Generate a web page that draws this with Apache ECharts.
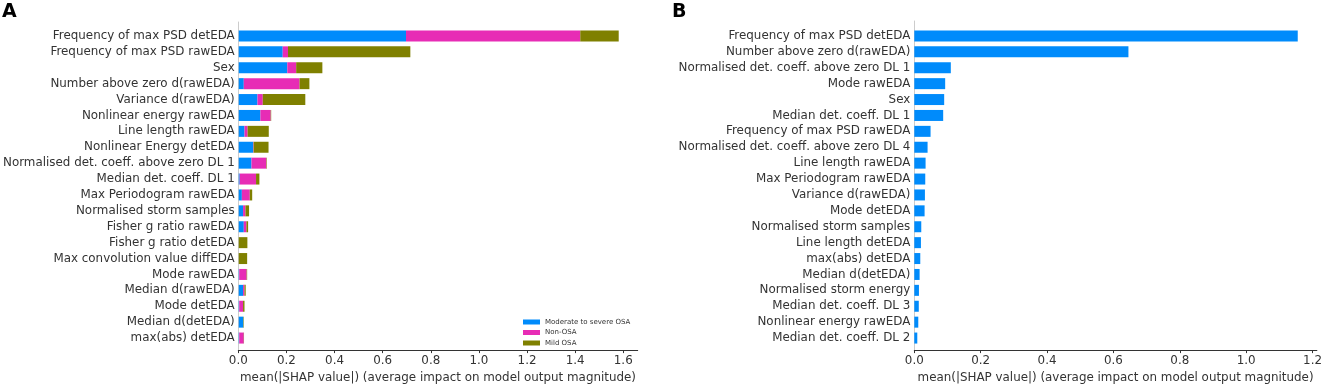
<!DOCTYPE html>
<html>
<head>
<meta charset="utf-8">
<script src="https://cdn.jsdelivr.net/npm/echarts@6/dist/echarts.min.js"></script>
<style>html,body{margin:0;padding:0;background:#fff;}#c{width:1325px;height:389px;}</style>
</head>
<body>
<div id="c"></div>
<script>
// ---------- Panel A data ----------
const labelsA = [
  "Frequency of max PSD detEDA",
  "Frequency of max PSD rawEDA",
  "Sex",
  "Number above zero d(rawEDA)",
  "Variance d(rawEDA)",
  "Nonlinear energy rawEDA",
  "Line length rawEDA",
  "Nonlinear Energy detEDA",
  "Normalised det. coeff. above zero DL 1",
  "Median det. coeff. DL 1",
  "Max Periodogram rawEDA",
  "Normalised storm samples",
  "Fisher g ratio rawEDA",
  "Fisher g ratio detEDA",
  "Max convolution value diffEDA",
  "Mode rawEDA",
  "Median d(rawEDA)",
  "Mode detEDA",
  "Median d(detEDA)",
  "max(abs) detEDA"
];
const modSevereA = [0.696, 0.183, 0.202, 0.021, 0.078, 0.090, 0.024, 0.060, 0.053, 0.004, 0.013, 0.018, 0.021, 0.000, 0.000, 0.002, 0.018, 0.002, 0.019, 0.002];
const nonOsaA    = [0.725, 0.022, 0.037, 0.232, 0.022, 0.043, 0.013, 0.002, 0.062, 0.068, 0.033, 0.010, 0.011, 0.000, 0.000, 0.031, 0.006, 0.016, 0.000, 0.019];
const mildOsaA   = [0.160, 0.509, 0.109, 0.041, 0.177, 0.002, 0.088, 0.062, 0.002, 0.014, 0.010, 0.015, 0.007, 0.036, 0.035, 0.002, 0.005, 0.006, 0.002, 0.001];
const seriesNamesA = ["Moderate to severe OSA", "Non-OSA", "Mild OSA"];
const ticksA = [0, 0.2, 0.4, 0.6, 0.8, 1.0, 1.2, 1.4, 1.6];
const maxA = 1.66;

// ---------- Panel B data ----------
const labelsB = [
  "Frequency of max PSD detEDA",
  "Number above zero d(rawEDA)",
  "Normalised det. coeff. above zero DL 1",
  "Mode rawEDA",
  "Sex",
  "Median det. coeff. DL 1",
  "Frequency of max PSD rawEDA",
  "Normalised det. coeff. above zero DL 4",
  "Line length rawEDA",
  "Max Periodogram rawEDA",
  "Variance d(rawEDA)",
  "Mode detEDA",
  "Normalised storm samples",
  "Line length detEDA",
  "max(abs) detEDA",
  "Median d(detEDA)",
  "Normalised storm energy",
  "Median det. coeff. DL 3",
  "Nonlinear energy rawEDA",
  "Median det. coeff. DL 2"
];
const valuesB = [1.155, 0.645, 0.110, 0.093, 0.090, 0.087, 0.049, 0.040, 0.034, 0.033, 0.032, 0.031, 0.021, 0.020, 0.018, 0.016, 0.014, 0.0135, 0.012, 0.009];
const ticksB = [0, 0.2, 0.4, 0.6, 0.8, 1.0, 1.2];
const maxB = 1.213;

const xTitle = "mean(|SHAP value|) (average impact on model output magnitude)";

// ---------- styling ----------
const FONT = "DejaVu Sans";
const FS = 11.9;
const TXT = "#333333";
const BLUE = "#008bfb", PINK = "#e72cb5", OLIVE = "#7f8000";
const W = 1325, H = 389;

const panels = [
  {left: 238.3, width: 399.4, frameTop: 22, max: maxA, ticks: ticksA},
  {left: 914.3, width: 402.7, frameTop: 21, max: maxB, ticks: ticksB}
];
const barTop = 28, barBottomY = 346, axisY = 353;

const grids = [], xAxes = [], yAxes = [];
panels.forEach((p, i) => {
  grids.push({left: p.left, width: p.width, top: p.frameTop, height: axisY - p.frameTop, containLabel: false});
  grids.push({left: p.left, width: p.width, top: barTop, height: barBottomY - barTop, containLabel: false});
  const gf = 2 * i, gb = 2 * i + 1;
  xAxes.push({
    gridIndex: gf, type: 'value', min: 0, max: p.max, interval: 0.2,
    axisLine: {show: true, lineStyle: {color: '#333333', width: 1}},
    axisTick: {show: true, length: 3, customValues: p.ticks, lineStyle: {color: '#333333'}},
    axisLabel: {show: true, customValues: p.ticks, margin: 5, color: TXT, fontFamily: FONT, fontSize: FS,
      formatter: v => v.toFixed(1)},
    splitLine: {show: false},
    name: xTitle, nameLocation: 'middle', nameGap: 18.5,
    nameTextStyle: {color: TXT, fontFamily: FONT, fontSize: FS}
  });
  xAxes.push({gridIndex: gb, type: 'value', min: 0, max: p.max, show: false, splitLine: {show: false}});
  yAxes.push({
    gridIndex: gf, type: 'value', min: 0, max: 1,
    axisLine: {show: true, lineStyle: {color: '#cccccc', width: 1}},
    axisTick: {show: false}, axisLabel: {show: false}, splitLine: {show: false}
  });
  yAxes.push({
    gridIndex: gb, type: 'category', inverse: true,
    data: i === 0 ? labelsA : labelsB,
    axisLine: {show: false}, axisTick: {show: false}, splitLine: {show: false},
    axisLabel: {margin: 4, color: TXT, fontFamily: FONT, fontSize: FS}
  });
});

const barW = 11;
const series = [
  {name: seriesNamesA[0], type: 'bar', stack: 'A', xAxisIndex: 1, yAxisIndex: 1, data: modSevereA, barWidth: barW, itemStyle: {color: BLUE}},
  {name: seriesNamesA[1], type: 'bar', stack: 'A', xAxisIndex: 1, yAxisIndex: 1, data: nonOsaA, barWidth: barW, itemStyle: {color: PINK}},
  {name: seriesNamesA[2], type: 'bar', stack: 'A', xAxisIndex: 1, yAxisIndex: 1, data: mildOsaA, barWidth: barW, itemStyle: {color: OLIVE}},
  {name: 'mean |SHAP value|', type: 'bar', xAxisIndex: 3, yAxisIndex: 3, data: valuesB, barWidth: barW, itemStyle: {color: BLUE}}
];

const chart = echarts.init(document.getElementById('c'), null, {renderer: 'canvas', width: W, height: H});
chart.setOption({
  animation: false,
  backgroundColor: '#ffffff',
  grid: grids, xAxis: xAxes, yAxis: yAxes, series: series,
  legend: {
    data: seriesNamesA, orient: 'vertical', left: 518, top: 313.5, padding: 5,
    icon: 'rect', itemWidth: 17, itemHeight: 5, itemGap: 3.5,
    textStyle: {color: TXT, fontFamily: FONT, fontSize: 7}, selectedMode: false
  },
  graphic: [
    {type: 'text', left: 2, top: 3, style: {text: 'A', fontFamily: 'DejaVu Sans', fontWeight: 'bold', fontSize: 19, fill: '#000'}},
    {type: 'text', left: 672, top: 3, style: {text: 'B', fontFamily: 'DejaVu Sans', fontWeight: 'bold', fontSize: 19, fill: '#000'}}
  ]
});
</script>
</body>
</html>
